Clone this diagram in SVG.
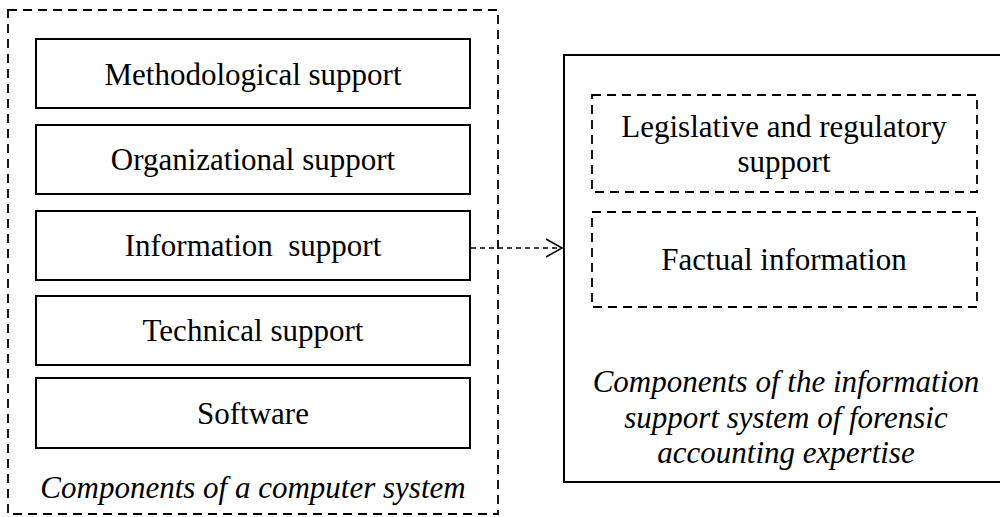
<svg xmlns="http://www.w3.org/2000/svg" width="1000" height="517" viewBox="0 0 1000 517">
<defs>
<style>
.t{font-family:"Liberation Serif","Times New Roman",serif;font-size:31px;fill:#000;text-anchor:middle;white-space:pre}
.i{font-style:italic}
.box{fill:#fff;stroke:#000;stroke-width:2}
.dash{fill:none;stroke:#000;stroke-width:1.8;stroke-dasharray:9 6}
.conn{fill:none;stroke:#000;stroke-width:1.5;stroke-dasharray:5 4}
</style>
<marker id="open" markerWidth="20" markerHeight="22" refX="17" refY="10" orient="auto" markerUnits="userSpaceOnUse">
<path d="M1,1 L17,10 L1,19" fill="none" stroke="#000" stroke-width="1.5"/>
</marker>
</defs>
<rect width="1000" height="517" fill="#fff"/>
<g id="computer-system">
<rect class="dash" x="8" y="10" width="490" height="504"/>
<text class="t i" x="253" y="498">Components of a computer system</text>
</g>
<g id="methodological"><rect class="box" x="36" y="39" width="434" height="69"/><text class="t" x="253" y="85">Methodological support</text></g>
<g id="organizational"><rect class="box" x="36" y="125" width="434" height="69"/><text class="t" x="253" y="170">Organizational support</text></g>
<g id="information"><rect class="box" x="36" y="211" width="434" height="69"/><text class="t" x="253" y="256">Information  support</text></g>
<g id="technical"><rect class="box" x="36" y="296" width="434" height="69"/><text class="t" x="253" y="341">Technical support</text></g>
<g id="software"><rect class="box" x="36" y="378" width="434" height="70"/><text class="t" x="253" y="424">Software</text></g>
<g id="forensic-system">
<rect class="box" x="564" y="55" width="450" height="427"/>
<text class="t i" x="786" y="392">Components of the information</text>
<text class="t i" x="786" y="428">support system of forensic</text>
<text class="t i" x="786" y="463">accounting expertise</text>
</g>
<g id="legislative"><rect class="dash" x="592" y="95" width="385" height="97"/><text class="t" x="784" y="137">Legislative and regulatory</text><text class="t" x="784" y="172">support</text></g>
<g id="factual"><rect class="dash" x="592" y="212" width="385" height="95"/><text class="t" x="784" y="270">Factual information</text></g>
<g id="connectors">
<line class="conn" x1="471" y1="248" x2="562" y2="248" marker-end="url(#open)"/>
</g>
</svg>
